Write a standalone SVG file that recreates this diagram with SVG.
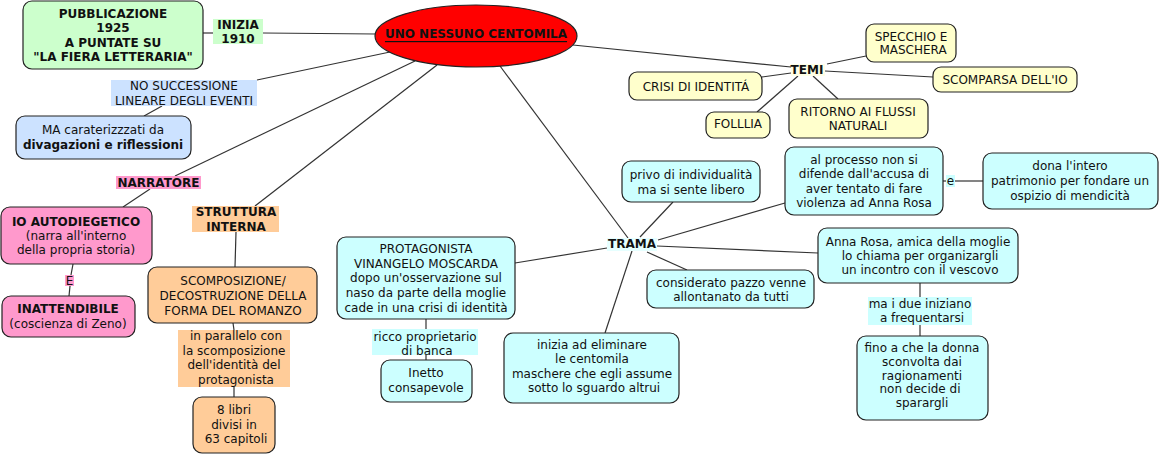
<svg xmlns="http://www.w3.org/2000/svg" width="1160" height="456" viewBox="0 0 1160 456">
<style>
text{font-family:"DejaVu Sans","Liberation Sans",sans-serif;font-size:12px;fill:#111;text-anchor:middle;dominant-baseline:central}
.b{font-weight:bold}
.box{stroke:#222;stroke-width:1.2}
.lbl{stroke:none}
.g{fill:#ccffcc}.bl{fill:#cce2ff}.p{fill:#ff99cc}.o{fill:#ffcc99}.c{fill:#ccffff}.y{fill:#ffffcc}
#connectors line{stroke:#333;stroke-width:1.2}
</style>
<rect width="1160" height="456" fill="#fff"/>
<g id="connectors">
<line x1="203" y1="33" x2="213" y2="33"/>
<line x1="263" y1="33" x2="376" y2="34"/>
<line x1="390" y1="52" x2="257" y2="80"/>
<line x1="162" y1="106" x2="144" y2="116"/>
<line x1="415" y1="61" x2="175" y2="176"/>
<line x1="150" y1="189" x2="123" y2="207"/>
<line x1="437" y1="65" x2="255" y2="206"/>
<line x1="236" y1="232" x2="235" y2="267"/>
<line x1="233" y1="323" x2="234" y2="330"/>
<line x1="234" y1="387" x2="234" y2="397"/>
<line x1="73" y1="264" x2="71" y2="275"/>
<line x1="70" y1="286" x2="69" y2="296"/>
<line x1="500" y1="66" x2="628" y2="238"/>
<line x1="607" y1="248" x2="515" y2="263"/>
<line x1="426" y1="319" x2="426" y2="329"/>
<line x1="426" y1="355" x2="426" y2="360"/>
<line x1="632" y1="251" x2="605" y2="333"/>
<line x1="640" y1="237" x2="673" y2="202"/>
<line x1="658" y1="240" x2="785" y2="203"/>
<line x1="943" y1="181" x2="946" y2="181"/>
<line x1="955" y1="181" x2="983" y2="181"/>
<line x1="657" y1="246" x2="818" y2="253"/>
<line x1="647" y1="252" x2="687" y2="270"/>
<line x1="920" y1="283" x2="920" y2="297"/>
<line x1="920" y1="325" x2="920" y2="336"/>
<line x1="573" y1="45" x2="791" y2="67"/>
<line x1="791" y1="73" x2="762" y2="77"/>
<line x1="798" y1="76" x2="757" y2="112"/>
<line x1="813" y1="76" x2="838" y2="99"/>
<line x1="827" y1="64" x2="866" y2="56"/>
<line x1="825" y1="71" x2="933" y2="77"/>
</g>
<g id="main"><ellipse cx="476" cy="36" rx="101" ry="31" fill="#ff0000" stroke="#222" stroke-width="1.2"/><text class="b" x="476" y="34" text-decoration="underline">UNO NESSUNO CENTOMILA</text></g>
<g id="pub"><rect class="box g" x="23" y="1" width="180" height="68" rx="9"/><text class="b" x="113" y="13.5">PUBBLICAZIONE</text><text class="b" x="113" y="28">1925</text><text class="b" x="113" y="42.5">A PUNTATE SU</text><text class="b" x="113" y="57">"LA FIERA LETTERARIA"</text></g>
<g id="inizia1910"><rect class="lbl g" x="213" y="19" width="50" height="25"/><text class="b" x="238" y="24.5">INIZIA</text><text class="b" x="238" y="39">1910</text></g>
<g id="nosucc"><rect class="lbl bl" x="111" y="80" width="146" height="26"/><text x="184" y="86">NO SUCCESSIONE</text><text x="184" y="100.5">LINEARE DEGLI EVENTI</text></g>
<g id="ma"><rect class="box bl" x="16" y="116" width="175" height="43" rx="9"/><text x="103" y="130">MA caraterizzzati da</text><text class="b" x="103" y="144.5">divagazioni e riflessioni</text></g>
<g id="narratore"><rect class="lbl p" x="116" y="176" width="85" height="13"/><text class="b" x="158.5" y="182.5">NARRATORE</text></g>
<g id="io"><rect class="box p" x="1" y="207" width="151" height="57" rx="9"/><text class="b" x="76" y="221.5">IO AUTODIEGETICO</text><text x="76" y="235.5">(narra all'interno</text><text x="76" y="250">della propria storia)</text></g>
<g id="e1"><rect class="lbl p" x="65" y="275" width="9" height="11"/><text x="69.5" y="280.5">E</text></g>
<g id="inatt"><rect class="box p" x="2" y="296" width="133" height="41" rx="9"/><text class="b" x="68" y="308.5">INATTENDIBILE</text><text x="68" y="323.5">(coscienza di Zeno)</text></g>
<g id="struttura"><rect class="lbl o" x="192" y="206" width="87" height="26"/><text class="b" x="236" y="212">STRUTTURA</text><text class="b" x="236" y="226.5">INTERNA</text></g>
<g id="scomp"><rect class="box o" x="148" y="267" width="169" height="56" rx="9"/><text x="233" y="281">SCOMPOSIZIONE/</text><text x="233" y="296">DECOSTRUZIONE DELLA</text><text x="233" y="310.5">FORMA DEL ROMANZO</text></g>
<g id="parallelo"><rect class="lbl o" x="178" y="330" width="112" height="57"/><text x="236" y="336">in parallelo con</text><text x="234" y="351">la scomposizione</text><text x="234" y="365">dell'identità del</text><text x="236" y="379.5">protagonista</text></g>
<g id="libri"><rect class="box o" x="193" y="397" width="82" height="56" rx="9"/><text x="234" y="410">8 libri</text><text x="234" y="424.5">divisi in</text><text x="236" y="439">63 capitoli</text></g>
<g id="protag"><rect class="box c" x="337" y="237" width="178" height="82" rx="9"/><text x="426" y="248.5">PROTAGONISTA</text><text x="426" y="263.5">VINANGELO MOSCARDA</text><text x="426" y="278">dopo un'osservazione sul</text><text x="426" y="293">naso da parte della moglie</text><text x="426" y="308">cade in una crisi di identità</text></g>
<g id="ricco"><rect class="lbl c" x="372" y="329" width="106" height="26"/><text x="425" y="337">ricco proprietario</text><text x="427" y="350.5">di banca</text></g>
<g id="inetto"><rect class="box c" x="381" y="360" width="91" height="42" rx="9"/><text x="426" y="373">Inetto</text><text x="426" y="388">consapevole</text></g>
<g id="iniziaelim"><rect class="box c" x="504" y="333" width="175" height="70" rx="9"/><text x="592" y="345">inizia ad eliminare</text><text x="592" y="359">le centomila</text><text x="592" y="373.5">maschere che egli assume</text><text x="594" y="388">sotto lo sguardo altrui</text></g>
<g id="trama"><rect class="lbl" fill="#e6ffff" x="607" y="238" width="50" height="13"/><text class="b" x="632" y="244">TRAMA</text></g>
<g id="privo"><rect class="box c" x="622" y="161" width="138" height="41" rx="9"/><text x="691" y="175">privo di individualità</text><text x="691" y="190">ma si sente libero</text></g>
<g id="processo"><rect class="box c" x="785" y="147" width="158" height="68" rx="9"/><text x="864" y="160">al processo non si</text><text x="864" y="174">difende dall'accusa di</text><text x="864" y="188.5">aver tentato di fare</text><text x="864" y="203">violenza ad Anna Rosa</text></g>
<g id="e2"><rect class="lbl c" x="946" y="175" width="9" height="12"/><text x="950.5" y="181">e</text></g>
<g id="dona"><rect class="box c" x="983" y="153" width="175" height="56" rx="9"/><text x="1070" y="166">dona l'intero</text><text x="1070" y="181">patrimonio per fondare un</text><text x="1070" y="195.5">ospizio di mendicità</text></g>
<g id="anna"><rect class="box c" x="818" y="228" width="200" height="55" rx="9"/><text x="918" y="242">Anna Rosa, amica della moglie</text><text x="920" y="256">lo chiama per organizargli</text><text x="920" y="270">un incontro con il vescovo</text></g>
<g id="considerato"><rect class="box c" x="647" y="270" width="167" height="38" rx="9"/><text x="731" y="283">considerato pazzo venne</text><text x="731" y="296.5">allontanato da tutti</text></g>
<g id="maidue"><rect class="lbl c" x="868" y="297" width="104" height="28"/><text x="920" y="304">ma i due iniziano</text><text x="922" y="318">a frequentarsi</text></g>
<g id="fino"><rect class="box c" x="857" y="336" width="131" height="84" rx="9"/><text x="922" y="348">fino a che la donna</text><text x="922" y="362">sconvolta dai</text><text x="922" y="375.5">ragionamenti</text><text x="920" y="389">non decide di</text><text x="922" y="403">sparargli</text></g>
<g id="temi"><rect class="lbl" fill="#ffffe6" x="791" y="64" width="34" height="12"/><text class="b" x="807" y="70">TEMI</text></g>
<g id="crisi"><rect class="box y" x="629" y="72" width="133" height="28" rx="8"/><text x="696" y="87">CRISI DI IDENTITÁ</text></g>
<g id="follia"><rect class="box y" x="706" y="112" width="64" height="26" rx="8"/><text x="738" y="124">FOLLLIA</text></g>
<g id="ritorno"><rect class="box y" x="789" y="99" width="139" height="39" rx="8"/><text x="858" y="112">RITORNO AI FLUSSI</text><text x="858" y="126">NATURALI</text></g>
<g id="specchio"><rect class="box y" x="866" y="24" width="90" height="38" rx="8"/><text x="911" y="37">SPECCHIO E</text><text x="913" y="50">MASCHERA</text></g>
<g id="scomparsa"><rect class="box y" x="933" y="67" width="144" height="25" rx="8"/><text x="1005" y="80">SCOMPARSA DELL'IO</text></g>
</svg>
